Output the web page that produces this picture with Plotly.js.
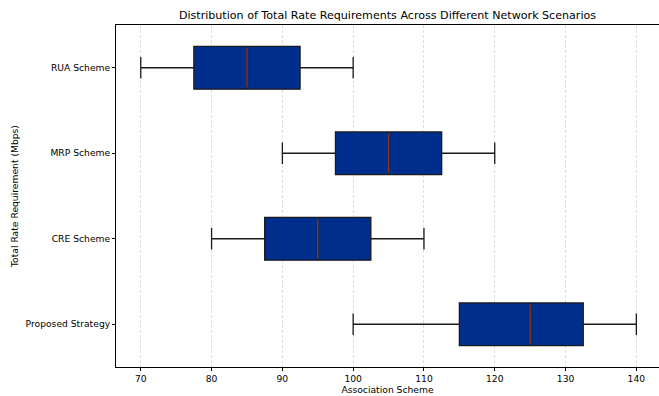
<!DOCTYPE html>
<html>
<head>
<meta charset="utf-8">
<script src="https://cdn.plot.ly/plotly-3.0.1.min.js"></script>
<style>html,body{margin:0;padding:0;background:#fff;}#chart{width:659px;height:396px;}</style>
</head>
<body>
<div id="chart"></div>
<script>
const categories = ["RUA Scheme", "MRP Scheme", "CRE Scheme", "Proposed Strategy"];
const positions = [4, 3, 2, 1];
const lowerWhisker = [70, 90, 80, 100];
const q1Values = [77.5, 97.5, 87.5, 115];
const medianValues = [85, 105, 95, 125];
const q3Values = [92.5, 112.5, 102.5, 132.5];
const upperWhisker = [100, 120, 110, 140];
const xTicks = [70, 80, 90, 100, 110, 120, 130, 140];

const boxWidth = 0.5;
const font = "DejaVu Sans, sans-serif";

const boxTrace = {
  type: "box",
  orientation: "h",
  y: positions,
  q1: q1Values,
  median: medianValues,
  q3: q3Values,
  lowerfence: lowerWhisker,
  upperfence: upperWhisker,
  width: boxWidth,
  whiskerwidth: 0.5,
  fillcolor: "#002E8C",
  line: {color: "#1a1a1a", width: 1.3},
  boxpoints: false,
  hoverinfo: "skip",
  showlegend: false
};

const medX = [], medY = [];
for (let i = 0; i < medianValues.length; i++) {
  medX.push(medianValues[i], medianValues[i], null);
  medY.push(positions[i] - boxWidth / 2 + 0.02, positions[i] + boxWidth / 2 - 0.02, null);
}
const medianTrace = {
  type: "scatter",
  mode: "lines",
  x: medX,
  y: medY,
  line: {color: "#8B3A1A", width: 1.3},
  hoverinfo: "skip",
  showlegend: false
};

const layout = {
  width: 659,
  height: 396,
  margin: {l: 116, r: 0, t: 25, b: 29},
  paper_bgcolor: "#ffffff",
  plot_bgcolor: "#ffffff",
  font: {family: font, color: "#000000", size: 9},
  title: {
    text: "Distribution of Total Rate Requirements Across Different Network Scenarios",
    font: {family: font, size: 11.1, color: "#000000"},
    x: 0.5, xanchor: "center", xref: "paper", y: 0.962, yanchor: "middle"
  },
  xaxis: {
    range: [66.5, 143.2],
    tickvals: xTicks,
    ticktext: xTicks.map(String),
    showgrid: true,
    gridcolor: "#d4d4d4",
    griddash: "3px,2px",
    gridwidth: 0.8,
    zeroline: false,
    showline: true,
    linecolor: "#000000",
    linewidth: 1,
    mirror: true,
    ticks: "outside",
    ticklen: 3,
    tickcolor: "#000000",
    tickfont: {family: font, size: 9.2},
    title: {text: "Association Scheme", font: {family: font, size: 9.2}, standoff: 3}
  },
  yaxis: {
    range: [0.5, 4.5],
    tickvals: positions,
    ticktext: categories,
    showgrid: false,
    zeroline: false,
    showline: true,
    linecolor: "#000000",
    linewidth: 1,
    mirror: false,
    ticks: "outside",
    ticklen: 3,
    tickcolor: "#000000",
    tickfont: {family: font, size: 9.2},
    title: {text: "Total Rate Requirement (Mbps)", font: {family: font, size: 9.2}, standoff: 5}
  }
};

Plotly.newPlot("chart", [boxTrace, medianTrace], layout, {displayModeBar: false, staticPlot: true});
</script>
</body>
</html>
